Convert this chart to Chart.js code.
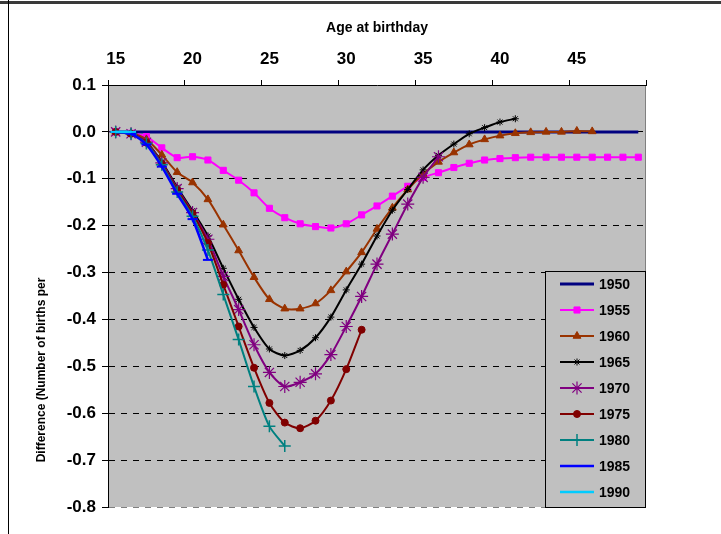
<!DOCTYPE html>
<html>
<head>
<meta charset="utf-8">
<script src="https://cdn.jsdelivr.net/npm/chart.js@4/dist/chart.umd.min.js"></script>
<style>
html,body{margin:0;padding:0;background:#fff;}
#wrap{width:721px;height:534px;position:relative;}
canvas{display:block;}
</style>
</head>
<body>
<div id="wrap"><canvas id="c" width="721" height="534"></canvas></div>
<script>
// ---- data ----
const ages = [15,16,17,18,19,20,21,22,23,24,25,26,27,28,29,30,31,32,33,34,35,36,37,38,39,40,41,42,43,44,45,46,47,48,49];
const yTicks = [0.1, 0.0, -0.1, -0.2, -0.3, -0.4, -0.5, -0.6, -0.7, -0.8];
const seriesNames = ['1950','1955','1960','1965','1970','1975','1980','1985','1990'];

const s1950 = [0,0,0,0,0,0,0,0,0,0,0,0,0,0,0,0,0,0,0,0,0,0,0,0,0,0,0,0,0,0,0,0,0,0,0];
const s1955 = [0,-0.003,-0.010,-0.034,-0.055,-0.053,-0.060,-0.082,-0.103,-0.130,-0.163,-0.183,-0.196,-0.202,-0.205,-0.196,-0.177,-0.158,-0.137,-0.116,-0.097,-0.087,-0.076,-0.067,-0.060,-0.057,-0.055,-0.054,-0.054,-0.054,-0.054,-0.054,-0.054,-0.054,-0.054];
const s1960 = [0,-0.003,-0.016,-0.049,-0.086,-0.108,-0.144,-0.198,-0.253,-0.310,-0.357,-0.377,-0.377,-0.366,-0.338,-0.298,-0.257,-0.207,-0.162,-0.123,-0.090,-0.064,-0.044,-0.027,-0.016,-0.008,-0.003,-0.001,0,0,0.002,0.001,null,null,null];
const s1965 = [0,-0.004,-0.022,-0.064,-0.118,-0.168,-0.222,-0.291,-0.357,-0.417,-0.463,-0.477,-0.466,-0.439,-0.395,-0.337,-0.282,-0.222,-0.167,-0.123,-0.081,-0.050,-0.026,-0.004,0.009,0.021,0.028,null,null,null,null,null,null,null,null];
const s1970 = [0,-0.004,-0.022,-0.066,-0.121,-0.172,-0.229,-0.308,-0.379,-0.454,-0.513,-0.543,-0.534,-0.516,-0.475,-0.415,-0.351,-0.282,-0.218,-0.154,-0.097,-0.053,null,null,null,null,null,null,null,null,null,null,null,null,null];
const s1975 = [0,-0.004,-0.023,-0.068,-0.124,-0.174,-0.237,-0.326,-0.415,-0.503,-0.578,-0.620,-0.632,-0.616,-0.573,-0.506,-0.422,null,null,null,null,null,null,null,null,null,null,null,null,null,null,null,null,null,null];
const s1980 = [0,-0.004,-0.025,-0.070,-0.128,-0.180,-0.252,-0.347,-0.443,-0.543,-0.628,-0.670,null,null,null,null,null,null,null,null,null,null,null,null,null,null,null,null,null,null,null,null,null,null,null];
const s1985 = [0,-0.004,-0.027,-0.074,-0.132,-0.186,-0.273,null,null,null,null,null,null,null,null,null,null,null,null,null,null,null,null,null,null,null,null,null,null,null,null,null,null,null,null];
const s1990 = [0,0,null,null,null,null,null,null,null,null,null,null,null,null,null,null,null,null,null,null,null,null,null,null,null,null,null,null,null,null,null,null,null,null,null];

const seriesValues = [s1950,s1955,s1960,s1965,s1970,s1975,s1980,s1985,s1990];

// ---- styles ----
const styles = [
  {color:'#000080', width:3, point:false, radius:0, pw:1},
  {color:'#FF00FF', width:2, point:'rect', radius:4.3, pw:1},
  {color:'#993300', width:2, point:'triangle', radius:4.5, pw:1},
  {color:'#000000', width:2, point:'star', radius:3.5, pw:1},
  {color:'#800080', width:2, point:'star', radius:6.5, pw:1.2},
  {color:'#800000', width:2, point:'circle', radius:3.5, pw:1},
  {color:'#008080', width:2, point:'cross', radius:6, pw:1.5},
  {color:'#0000FF', width:2.5, point:'line', radius:5, pw:2},
  {color:'#00CCFF', width:2.5, point:'line', radius:5, pw:2}
];

const datasets = seriesNames.map((name, i) => ({
  label: name,
  data: seriesValues[i],
  borderColor: styles[i].color,
  backgroundColor: styles[i].color,
  borderWidth: styles[i].width,
  pointStyle: styles[i].point,
  pointRadius: styles[i].radius,
  pointBorderWidth: styles[i].pw,
  pointBackgroundColor: styles[i].color,
  pointBorderColor: styles[i].color,
  tension: 0.25,
  spanGaps: false,
  fill: false,
  order: seriesNames.length - i
}));

const FONT = '"Liberation Sans", Arial, sans-serif';

const framePlugin = {
  id: 'frame',
  beforeDraw(chart) {
    const {ctx, chartArea: a} = chart;
    ctx.save();
    ctx.fillStyle = '#ffffff';
    ctx.fillRect(0, 0, chart.width, chart.height);
    ctx.fillStyle = '#3a3a3a';
    ctx.fillRect(0, 1, chart.width, 3);
    ctx.fillStyle = '#000000';
    ctx.fillRect(8, 0, 1, chart.height);
    ctx.fillStyle = '#C0C0C0';
    ctx.fillRect(a.left, a.top, a.right - a.left, a.bottom - a.top);
    ctx.strokeStyle = '#808080';
    ctx.lineWidth = 1;
    ctx.beginPath();
    ctx.moveTo(Math.round(a.right) - 0.5, a.top);
    ctx.lineTo(Math.round(a.right) - 0.5, a.bottom);
    ctx.stroke();
    ctx.restore();
  },
  afterDraw(chart) {
    const {ctx, chartArea: a} = chart;
    // y-axis title
    ctx.save();
    ctx.translate(42, 370);
    ctx.rotate(-Math.PI / 2);
    ctx.fillStyle = '#000';
    ctx.font = 'bold 12px ' + FONT;
    ctx.textAlign = 'center';
    ctx.textBaseline = 'middle';
    ctx.fillText('Difference (Number of births per', 0, 0);
    ctx.restore();

    // legend
    const bx = 545, by = 271, bw = Math.round(a.right) - 1 - bx, bh = 236;
    ctx.save();
    ctx.fillStyle = '#C0C0C0';
    ctx.fillRect(bx, by, bw, bh);
    ctx.strokeStyle = '#000';
    ctx.lineWidth = 1;
    ctx.strokeRect(bx + 0.5, by + 0.5, bw, bh);
    chart.data.datasets.forEach((ds, i) => {
      const y = by + 13 + i * 26;
      ctx.save();
      ctx.strokeStyle = ds.borderColor;
      ctx.lineWidth = ds.borderWidth;
      ctx.beginPath();
      ctx.moveTo(560, y);
      ctx.lineTo(594, y);
      ctx.stroke();
      if (ds.pointStyle && ds.pointRadius > 0 && Chart.helpers && Chart.helpers.drawPoint) {
        ctx.fillStyle = ds.pointBackgroundColor;
        ctx.strokeStyle = ds.pointBorderColor;
        ctx.lineWidth = ds.pointBorderWidth;
        Chart.helpers.drawPoint(ctx, {pointStyle: ds.pointStyle, radius: ds.pointRadius, borderWidth: ds.pointBorderWidth, rotation: 0}, 577, y);
      }
      ctx.restore();
      ctx.fillStyle = '#000';
      ctx.font = 'bold 14px ' + FONT;
      ctx.textAlign = 'left';
      ctx.textBaseline = 'middle';
      ctx.fillText(ds.label, 599, y + 1);
    });
    ctx.restore();
  }
};

new Chart(document.getElementById('c'), {
  type: 'line',
  data: { labels: ages, datasets },
  options: {
    responsive: false,
    devicePixelRatio: 1,
    animation: false,
    layout: { padding: { left: 0, right: 75, top: 0, bottom: 27 } },
    plugins: { legend: { display: false }, tooltip: { enabled: false } },
    scales: {
      x: {
        type: 'category',
        position: 'top',
        offset: true,
        afterFit: s => { s.height = 85; },
        grid: {
          offset: true,
          drawOnChartArea: false,
          drawTicks: true,
          tickLength: 5,
          color: c => (c.index === undefined || c.index % 5 === 0) ? '#000' : 'rgba(0,0,0,0)',
          tickColor: c => (c.index === undefined || c.index % 5 === 0) ? '#000' : 'rgba(0,0,0,0)',
          tickBorderDash: []
        },
        border: { display: true, color: '#000', width: 1 },
        ticks: {
          autoSkip: false,
          maxRotation: 0,
          padding: 10,
          color: '#000',
          font: { family: FONT, size: 17, weight: 'bold' },
          callback: (v, i) => (i % 5 === 0 ? String(ages[i]) : '')
        },
        title: {
          display: true,
          text: 'Age at birthday',
          color: '#000',
          font: { family: FONT, size: 14, weight: 'bold' },
          padding: { top: 20, bottom: 0 }
        }
      },
      y: {
        min: -0.8,
        max: 0.1,
        afterFit: s => { s.width = 108; },
        afterBuildTicks: s => { s.ticks = yTicks.map(v => ({ value: v })); },
        grid: {
          drawOnChartArea: true,
          drawTicks: true,
          tickLength: 6,
          color: c => {
            const v = c.tick ? c.tick.value : 0;
            if (v > 0.05) return 'rgba(0,0,0,0)';
            if (v < -0.75) return '#808080';
            return '#000';
          },
          tickColor: '#000',
          borderDash: [6, 6],
          tickBorderDash: []
        },
        border: { display: true, color: '#000', width: 1, dash: [6, 6] },
        ticks: {
          padding: 6,
          color: '#000',
          font: { family: FONT, size: 17, weight: 'bold' },
          callback: v => Number(v).toFixed(1)
        }
      }
    }
  },
  plugins: [framePlugin]
});
</script>
</body>
</html>
